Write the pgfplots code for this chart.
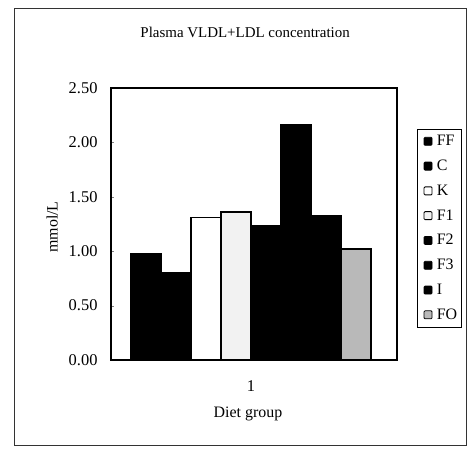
\documentclass[border=0pt]{standalone}
\usepackage{fontspec}
\setmainfont{Liberation Serif}
\usepackage{pgfplots}
\pgfplotsset{compat=1.18}
\begin{document}
\begin{tikzpicture}
\useasboundingbox (0,0) rectangle (469bp,452bp);
\fill[white] (0,0) rectangle (469bp,452bp);
\draw[line width=0.8bp, black!80] (14bp,7bp) rectangle (466bp,444bp);
\begin{axis}[
  at={(111bp,92bp)}, anchor=south west,
  scale only axis, width=286bp, height=272bp,
  xmin=0.5105, xmax=1.5105, ymin=0, ymax=2.5,
  ybar=0pt, bar width=30bp,
  xtick={1}, xticklabels={1},
  major x tick style={draw=none},
  ytick={0,0.5,1,1.5,2,2.5},
  ytick pos=left, tick align=inside, major tick length=3bp,
  yticklabel style={/pgf/number format/fixed, /pgf/number format/fixed zerofill, /pgf/number format/precision=2, xshift=-10bp},
  /pgf/number format/assume math mode=true,
  xticklabel style={yshift=-17bp},
  tick label style={font=\fontsize{16.5}{19}\selectfont},
  axis line style={line width=2bp},
  title={Plasma VLDL+LDL concentration},
  title style={at={(0.469,1.184)}, anchor=center, font=\fontsize{15}{17}\selectfont},
  xlabel={Diet group},
  xlabel style={at={(0.479,-0.2)}, anchor=center, font=\fontsize{16}{18}\selectfont},
  ylabel={mmol/L},
  ylabel style={at={(-0.206,0.489)}, anchor=center, font=\fontsize{16}{18}\selectfont},
  legend style={at={(1.07,0.849)}, anchor=north west, draw=black, line width=0.6bp,
    font=\fontsize{16}{18}\selectfont, row sep=8.8bp, inner xsep=2bp, inner ysep=4bp},
  legend cell align=left,
  legend image code/.code={\path (-4bp,0) (10bp,0);\draw[#1,/tikz/.cd,line width=0.8bp,rounded corners=1bp] (0bp,-4bp) rectangle (8bp,4bp);},
  every axis plot/.append style={draw=black, line width=1.5bp},
]
\addplot[fill=black] coordinates {(1,0.98)};
\addplot[fill=black] coordinates {(1,0.80)};
\addplot[fill=white] coordinates {(1,1.31)};
\addplot[fill=gray!10] coordinates {(1,1.36)};
\addplot[fill=black] coordinates {(1,1.23)};
\addplot[fill=black] coordinates {(1,2.16)};
\addplot[fill=black] coordinates {(1,1.33)};
\addplot[fill=gray!55] coordinates {(1,1.02)};
\legend{FF,C,K,F1,F2,F3,I,FO}
\end{axis}
\end{tikzpicture}
\end{document}
